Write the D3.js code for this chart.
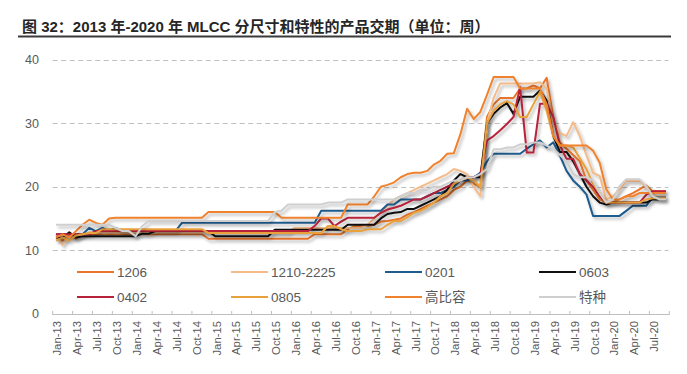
<!DOCTYPE html>
<html>
<head>
<meta charset="utf-8">
<script src="https://cdn.jsdelivr.net/npm/d3@7/dist/d3.min.js"></script>
<style>
  body { margin: 0; background: #fff; }
  #diagram_area { width: 687px; height: 374px; }
</style>
</head>
<body>
<div id="diagram_area"></div>
<script>
// MLCC Lieferzeiten (Wochen), monatlich Jan-13 bis Sep-20

var years = ["13", "14", "15", "16", "17", "18", "19", "20"];
var monthNames = ["Jan", "Feb", "Mar", "Apr", "May", "Jun", "Jul", "Aug", "Sep", "Oct", "Nov", "Dec"];

var months = [];
years.forEach(function(y) {
    monthNames.forEach(function(m) { months.push(m + "-" + y); });
});
months = months.slice(0, 93); // bis Sep-20

var yTicks = [0, 10, 20, 30, 40];

var s1206 = [
    12, 11.5, 12.3, 11.8, 12.5, 12.5, 12.5, 12.5, 12.5, 12.5, 12.5, 12.5,
    12.5, 12.5, 12.5, 12.5, 12.5, 12.5, 12.5, 12.5, 12.5, 12.5, 12.5, 11.8,
    11.8, 11.8, 11.8, 11.8, 11.8, 11.8, 11.8, 11.8, 11.8, 11.8, 11.8, 11.8,
    11.8, 11.8, 11.8, 12.5, 12.5, 12.5, 12.5, 12.5, 13.3, 13.8, 13.8, 13.8,
    14, 14.5, 14.6, 14.8, 15, 15.6, 16, 16.5, 17, 17.5, 18, 18.5,
    19.5, 20, 21, 20.5, 20, 31, 33, 34, 34, 34, 35.5, 35.5,
    36, 35.5, 37.2, 31, 27, 26, 25, 24, 21, 19.5, 18, 17.5,
    17.5, 18, 18.5, 19, 19.6, 20.2, 19.3, 19.3, 19.3
];

var s1210 = [
    12.5, 10.8, 12.5, 12, 12.5, 12.8, 12.8, 12.8, 12.8, 12.8, 12.8, 12.8,
    12.8, 12.8, 12.8, 12.8, 12.8, 12.8, 12.8, 12.8, 12.8, 12.8, 12.8, 12.8,
    12.8, 12.8, 12.8, 12.8, 12.8, 12.8, 12.8, 12.8, 12.8, 12.8, 12.8, 12.8,
    13.5, 13.5, 13.5, 13.5, 13.5, 13.5, 13.5, 13.5, 13.5, 13.5, 13.5, 14,
    15, 16, 17, 18, 18.5, 19, 19.5, 20, 20.5, 21, 21.5, 22,
    22.8, 22.5, 22, 20, 18.5, 30, 34, 36.3, 36.3, 36.3, 36.3, 36.3,
    36.3, 36.5, 35.5, 30, 28.5, 28, 30.2, 28, 25, 22.2, 21.7, 18,
    18.5, 19.6, 20.9, 20.9, 20.9, 20, 18.5, 18.5, 18.5
];

var s0201 = [
    12.5, 12.5, 12.5, 12.5, 12.5, 13.5, 13, 13.5, 13, 13.5, 13, 13,
    13, 13, 13, 13, 13, 13, 13, 14.3, 14.3, 14.3, 14.3, 14.3,
    14.3, 14.3, 14.3, 14.3, 14.3, 14.3, 14.3, 14.3, 14.3, 14.3, 14.3, 14.3,
    14.3, 14.3, 14.3, 14.3, 16.2, 16.2, 16.2, 16.2, 16.2, 16.2, 16.2, 16.2,
    16.2, 16.2, 17.2, 17.2, 18, 18, 18, 18, 18.5, 19, 19, 19.5,
    20, 21, 21, 21.5, 22.2, 24, 25.2, 25.2, 25.2, 25.2, 25.2, 26,
    26.7, 27.3, 26.2, 27, 24.9, 22.5, 21, 20, 18.8, 15.4, 15.4, 15.4,
    15.4, 15.4, 16.2, 17, 17, 17, 18.3, 18.3, 18.3
];

var s0603 = [
    12, 12, 12.8, 12, 12.2, 12.2, 12.2, 12.2, 12.2, 12.2, 12.2, 12.2,
    12.2, 12.6, 12.6, 13, 13, 13, 13, 13, 13, 13, 13, 13,
    12.2, 12.2, 12.2, 12.2, 12.2, 12.2, 12.2, 12.2, 12.2, 13.2, 13.2, 13.2,
    13.2, 13.2, 13.2, 13.2, 13.2, 13.2, 13.2, 13.2, 14, 14, 14, 14,
    14, 15, 15.7, 15.9, 16, 16.5, 16.5, 17, 17.5, 18, 18.5, 19.5,
    21, 22, 21.5, 21.5, 21.5, 30, 31.5, 32.5, 33.2, 31.5, 34.2, 34.2,
    34.2, 35.2, 33.6, 28, 25.5, 25.5, 24, 22, 20, 18.5, 17.5, 17.2,
    17.5, 17.5, 17.5, 17.5, 17.5, 17.5, 18, 18, 18
];

var s0402 = [
    12.5, 12.5, 12.5, 12.5, 12.5, 12.5, 13, 13, 13, 13, 13, 13,
    13, 13, 13, 13, 13, 13, 13, 13, 13, 13, 13, 13,
    13, 13, 13, 13, 13, 13, 13, 13, 13, 13, 13, 13,
    13, 13, 13, 13.8, 15, 15, 13.8, 14.5, 15.1, 15.1, 15.1, 15.1,
    15.1, 15.9, 16.4, 16.7, 17, 17.5, 18, 18, 18.5, 19, 19.5, 20,
    20.5, 21, 21.5, 21.5, 22, 27.3, 28, 28.9, 29.9, 31, 35.7, 25.4,
    25.4, 33.1, 33.1, 31, 26.5, 24.4, 24.4, 22, 21, 20, 18.5, 17.5,
    17.5, 17.5, 17.5, 17.5, 17.5, 18.7, 19.3, 19.3, 19.3
];

var s0805 = [
    11.5, 12, 11.5, 12.3, 12.5, 12.7, 12.7, 13.3, 13.3, 13.3, 13.3, 13.3,
    13.3, 13.3, 13.3, 13.3, 13.3, 13.3, 13.3, 13.3, 13.3, 13.3, 13.3, 12.7,
    12.7, 12.7, 12.7, 12.7, 12.7, 12.7, 12.7, 12.7, 12.7, 12.7, 12.7, 12.7,
    12.7, 12.7, 12.7, 12.7, 12.7, 13.8, 13.8, 13.3, 13, 13, 13, 13.3,
    13.3, 13.3, 14, 14.6, 14.6, 15.2, 15.9, 16.2, 16.8, 17.5, 18.5, 19,
    20.5, 21, 21.5, 21, 20, 30, 32, 33, 33.5, 33, 31, 31,
    33, 35, 32, 28, 26.5, 26.5, 26.2, 24.5, 22.8, 20.5, 19, 17.5,
    17.5, 17.5, 17.5, 17.5, 17.5, 18, 18.2, 18.2, 18.2
];

var sGaobirong = [
    12, 12.5, 12, 13, 14, 14.8, 14.3, 14, 15, 15.1, 15.1, 15.1,
    15.1, 15.1, 15.1, 15.1, 15.1, 15.1, 15.1, 15.1, 15.1, 15.1, 15.1, 16,
    16, 16, 16, 16, 16, 16, 16, 16, 16, 16, 15.1, 15.1,
    15.1, 15.1, 15.1, 15.1, 15.1, 15.1, 15.1, 15.1, 17.2, 17.2, 17.2, 17.2,
    18.5, 20, 20.3, 20.7, 21.5, 22, 22.2, 22.2, 22.5, 23.5, 24.1, 25.2,
    25.3, 28.3, 32.3, 30.7, 31.8, 34.5, 37.3, 37.3, 37.3, 37.3, 35.5, 35.5,
    35.5, 35.5, 33, 28, 26.5, 26.5, 26.5, 26.5, 26.5, 25.7, 23.8, 19.6,
    18, 18, 18.5, 18.5, 19, 19, 19, 19, 19
];

var sTezhong = [
    14, 14, 14, 14, 14, 14, 14, 14, 14, 13.5, 13, 13,
    12.2, 13.8, 14.6, 14.6, 14.6, 14.6, 14.6, 14.6, 14.6, 14.6, 14.6, 14.6,
    14.6, 14.6, 14.6, 14.6, 14.6, 14.6, 14.6, 14.6, 14.6, 16, 16.2, 17.2,
    17.2, 17.2, 17.2, 17.2, 17.2, 17.5, 17.5, 17.5, 18, 18, 18, 18,
    18, 18, 18, 18, 18.5, 19, 19, 19.5, 19.5, 20, 20, 20.5,
    21, 21, 21.5, 21.5, 22, 22.8, 25.9, 25.9, 26.2, 26.2, 26.7, 26.7,
    27, 27, 26.5, 26, 25, 24, 22, 21.5, 21.5, 21, 19, 17.5,
    18, 20.1, 21.2, 21.2, 21.2, 20.1, 18.5, 18, 18
];

var seriesNames = ["1206", "1210-2225", "0201", "0603", "0402", "0805", "高比容", "特种"];
var seriesColors = ["#E9742B", "#F5BC8A", "#1F5B8E", "#111111", "#B8213A", "#E9A23B", "#F0822E", "#CFCFCF"];
var seriesValues = [s1206, s1210, s0201, s0603, s0402, s0805, sGaobirong, sTezhong];

function diagram() {
    var width = 687, height = 374;
    var plot = {left: 52.7, right: 669.3, top: 60, bottom: 313.5};

    var svg = d3.select('#diagram_area').append("svg")
        .attr("width", width)
        .attr("height", height)
        .attr("font-family", "'Liberation Sans', Arial, 'Noto Sans CJK SC', sans-serif");

    // Schatten wie im Excel-Original
    var defs = svg.append("defs");
    var filter = defs.append("filter")
        .attr("id", "shadow")
        .attr("x", "-5%").attr("y", "-5%")
        .attr("width", "115%").attr("height", "120%");
    filter.append("feDropShadow")
        .attr("dx", 2).attr("dy", 2.5)
        .attr("stdDeviation", 1.6)
        .attr("flood-color", "#000")
        .attr("flood-opacity", 0.28);

    // Titel
    svg.append("text")
        .attr("x", 22)
        .attr("y", 32)
        .attr("font-family", "'Liberation Sans', Arial, 'Noto Sans CJK SC', sans-serif")
        .attr("font-size", 15)
        .attr("font-weight", "bold")
        .attr("fill", "#262626")
        .text("图 32：2013 年-2020 年 MLCC 分尺寸和特性的产品交期（单位：周）");

    svg.append("line")
        .attr("x1", 18).attr("x2", 671)
        .attr("y1", 36.5).attr("y2", 36.5)
        .attr("stroke", "#3a3a3a")
        .attr("stroke-width", 2);

    var x = d3.scaleBand()
        .domain(months)
        .range([plot.left, plot.right])
        .padding(0);

    var y = d3.scaleLinear()
        .domain([0, 40])
        .range([plot.bottom, plot.top]);

    function cx(m) { return x(m) + x.bandwidth() / 2; }

    // Gitterlinien
    svg.append("g")
        .selectAll("line")
        .data(yTicks.filter(function(d) { return d > 0; }))
        .enter().append("line")
        .attr("x1", plot.left)
        .attr("x2", plot.right - 1)
        .attr("y1", function(d) { return Math.round(y(d)) + 0.5; })
        .attr("y2", function(d) { return Math.round(y(d)) + 0.5; })
        .attr("stroke", "#BFBFBF")
        .attr("stroke-width", 1)
        .attr("stroke-dasharray", "5,3.5");

    // y-Achse Beschriftung
    svg.append("g")
        .selectAll("text")
        .data(yTicks)
        .enter().append("text")
        .attr("x", 39)
        .attr("y", function(d) { return y(d); })
        .attr("dy", "0.35em")
        .attr("text-anchor", "end")
        .attr("font-size", 12.5)
        .attr("fill", "#595959")
        .text(function(d) { return d; });

    // x-Achse
    var xAxis = svg.append("g");
    xAxis.append("line")
        .attr("x1", plot.left).attr("x2", plot.right)
        .attr("y1", Math.round(plot.bottom) + 0.5).attr("y2", Math.round(plot.bottom) + 0.5)
        .attr("stroke", "#BFBFBF");

    var tickMonths = months.filter(function(d, i) { return i % 3 === 0; });

    xAxis.selectAll("line.tick")
        .data(tickMonths.concat([null]))
        .enter().append("line")
        .attr("class", "tick")
        .attr("x1", function(d) { return d === null ? plot.right : x(d); })
        .attr("x2", function(d) { return d === null ? plot.right : x(d); })
        .attr("y1", Math.round(plot.bottom) - 3)
        .attr("y2", Math.round(plot.bottom) + 1)
        .attr("stroke", "#BFBFBF");

    xAxis.selectAll("text")
        .data(tickMonths)
        .enter().append("text")
        .attr("transform", function(d) {
            return "translate(" + (cx(d) + 1.5) + "," + 321 + ") rotate(-90)";
        })
        .attr("dy", "0.35em")
        .attr("text-anchor", "end")
        .attr("font-size", 11.3)
        .attr("fill", "#595959")
        .text(function(d) { return d; });

    // Linien
    var line = d3.line()
        .x(function(d) { return cx(d.m); })
        .y(function(d) { return y(d.v); });

    var series = seriesNames.map(function(name, k) {
        return {
            name: name,
            color: seriesColors[k],
            values: seriesValues[k].map(function(v, i) { return {m: months[i], v: v}; })
        };
    });

    svg.append("g")
        .attr("class", "lines")
        .attr("fill", "none")
        .selectAll("path")
        .data(series)
        .enter().append("path")
        .attr("d", function(d) { return line(d.values); })
        .attr("stroke", function(d) { return d.color; })
        .attr("stroke-width", 2)
        .attr("stroke-linejoin", "round")
        .attr("filter", "url(#shadow)");

    // Legende
    var legend = svg.append("g")
        .selectAll("g")
        .data(series)
        .enter().append("g")
        .attr("transform", function(d, i) {
            return "translate(" + (77 + (i % 4) * 154) + "," + (i < 4 ? 272 : 297) + ")";
        });

    legend.append("line")
        .attr("x1", 0).attr("x2", 37)
        .attr("y1", 0).attr("y2", 0)
        .attr("stroke", function(d) { return d.color; })
        .attr("stroke-width", 2);

    legend.append("text")
        .attr("x", 40)
        .attr("y", 0)
        .attr("dy", "0.35em")
        .attr("font-size", 13.5)
        .attr("fill", "#595959")
        .text(function(d) { return d.name; });
}

diagram();
</script>
</body>
</html>
